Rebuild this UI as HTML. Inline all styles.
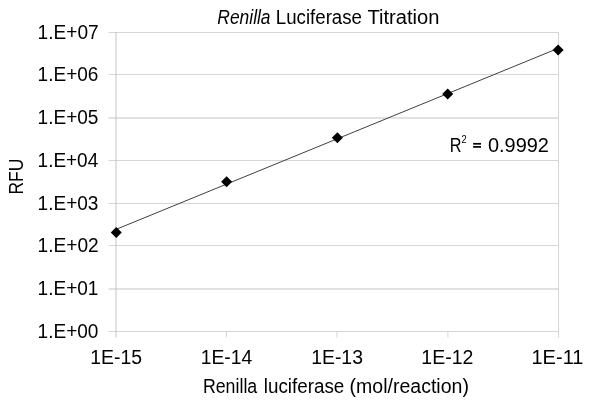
<!DOCTYPE html>
<html><head><meta charset="utf-8"><style>
html,body{margin:0;padding:0;background:#fff;width:600px;height:400px;overflow:hidden}
svg{display:block;will-change:transform}
text{font-family:"Liberation Sans",sans-serif;font-size:19.5px;fill:#000}
</style></head><body>
<svg width="600" height="400" viewBox="0 0 600 400">
<rect width="600" height="400" fill="#fff"/>
<rect x="108.6" y="32" width="450.4" height="1" fill="#d6d6d6"/>
<rect x="108.6" y="74" width="450.4" height="1" fill="#d6d6d6"/>
<rect x="108.6" y="117.5" width="450.4" height="1" fill="#c4c4c4"/>
<rect x="108.6" y="160" width="450.4" height="1" fill="#d6d6d6"/>
<rect x="108.6" y="203" width="450.4" height="1" fill="#d6d6d6"/>
<rect x="108.6" y="245" width="450.4" height="1" fill="#d6d6d6"/>
<rect x="108.6" y="288.5" width="450.4" height="1" fill="#c4c4c4"/>
<rect x="108.6" y="331" width="450.4" height="1" fill="#d6d6d6"/>
<rect x="115.5" y="32" width="1" height="305.5" fill="#c4c4c4"/>
<rect x="558" y="32" width="1" height="305.5" fill="#d6d6d6"/>
<rect x="225.9" y="331" width="1" height="6.5" fill="#d6d6d6"/>
<rect x="336.4" y="331" width="1" height="6.5" fill="#d6d6d6"/>
<rect x="447.4" y="331" width="1" height="6.5" fill="#d6d6d6"/>
<line x1="116" y1="229.4" x2="558" y2="48.4" stroke="#404040" stroke-width="1"/>
<path d="M116.25 226.9L121.75 232.4L116.25 237.9L110.75 232.4Z" fill="#000"/>
<path d="M226.6 176.3L232.1 181.8L226.6 187.3L221.1 181.8Z" fill="#000"/>
<path d="M337.4 132.3L342.9 137.8L337.4 143.3L331.9 137.8Z" fill="#000"/>
<path d="M447.7 88.5L453.2 94.0L447.7 99.5L442.2 94.0Z" fill="#000"/>
<path d="M558.1 44.4L563.6 49.9L558.1 55.4L552.6 49.9Z" fill="#000"/>
<text x="217.33" y="24.3" textLength="53.23" lengthAdjust="spacingAndGlyphs" font-style="italic">Renilla</text>
<text x="275.87" y="24.3" textLength="86.06" lengthAdjust="spacingAndGlyphs">Luciferase</text>
<text x="367.48" y="24.3" textLength="71.97" lengthAdjust="spacingAndGlyphs">Titration</text>
<text x="37.58" y="38.7" textLength="61.16" lengthAdjust="spacingAndGlyphs">1.E+07</text>
<text x="37.58" y="80.7" textLength="60.90" lengthAdjust="spacingAndGlyphs">1.E+06</text>
<text x="37.58" y="124.2" textLength="60.90" lengthAdjust="spacingAndGlyphs">1.E+05</text>
<text x="37.59" y="166.7" textLength="60.65" lengthAdjust="spacingAndGlyphs">1.E+04</text>
<text x="37.58" y="209.7" textLength="60.90" lengthAdjust="spacingAndGlyphs">1.E+03</text>
<text x="37.58" y="251.7" textLength="61.16" lengthAdjust="spacingAndGlyphs">1.E+02</text>
<text x="37.58" y="295.2" textLength="60.90" lengthAdjust="spacingAndGlyphs">1.E+01</text>
<text x="37.58" y="337.7" textLength="60.90" lengthAdjust="spacingAndGlyphs">1.E+00</text>
<text x="90.26" y="363.75" textLength="51.79" lengthAdjust="spacingAndGlyphs">1E-15</text>
<text x="200.76" y="363.75" textLength="51.53" lengthAdjust="spacingAndGlyphs">1E-14</text>
<text x="311.16" y="363.75" textLength="51.79" lengthAdjust="spacingAndGlyphs">1E-13</text>
<text x="421.35" y="363.75" textLength="52.05" lengthAdjust="spacingAndGlyphs">1E-12</text>
<text x="531.51" y="363.75" textLength="51.90" lengthAdjust="spacingAndGlyphs">1E-11</text>
<text x="202.93" y="393" textLength="54.28" lengthAdjust="spacingAndGlyphs">Renilla</text>
<text x="263.80" y="393" textLength="80.44" lengthAdjust="spacingAndGlyphs">luciferase</text>
<text x="349.55" y="393" textLength="119.36" lengthAdjust="spacingAndGlyphs">(mol/reaction)</text>
<text x="449.75" y="151.8" textLength="11.77" lengthAdjust="spacingAndGlyphs">R</text>
<text x="461.46" y="142.8" textLength="5.20" lengthAdjust="spacingAndGlyphs" style="font-size:10.6px">2</text>
<text x="487.93" y="151.8" textLength="60.99" lengthAdjust="spacingAndGlyphs">0.9992</text>
<rect x="473.1" y="142.95" width="7.9" height="1.7" fill="#000"/>
<rect x="473.1" y="146.05" width="7.9" height="1.7" fill="#000"/>
<text transform="translate(23.1 193.2) rotate(-90)" x="-1.35" y="0" textLength="35.96" lengthAdjust="spacingAndGlyphs">RFU</text>
</svg>
</body></html>
